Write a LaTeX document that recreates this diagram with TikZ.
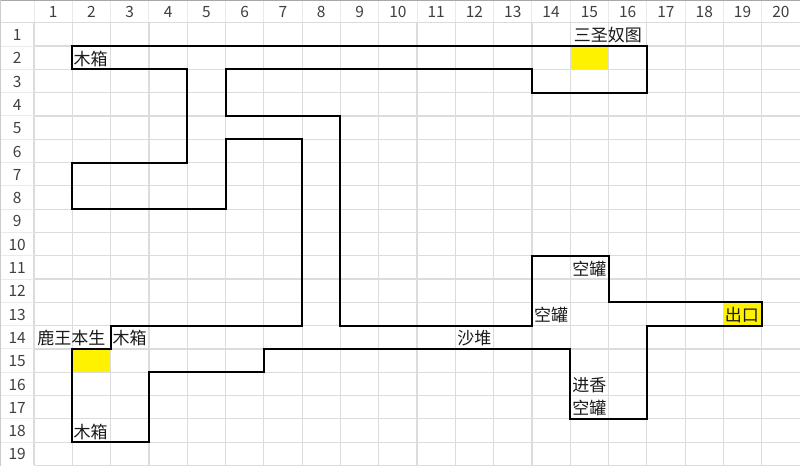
\documentclass[tikz,border=0pt]{standalone}
\usepackage{fontspec}
\setmainfont{Noto Sans CJK SC}
\definecolor{gridline}{HTML}{DCDCDC}
\definecolor{headline}{HTML}{EAEAEA}
\definecolor{edgeline}{HTML}{A8A8A8}
\definecolor{numtext}{HTML}{404040}
\definecolor{marktext}{HTML}{1A1A1A}
\begin{document}
\begin{tikzpicture}[x=38.3pt,y=-23.3pt,
  cell label/.style={anchor=west,inner sep=0pt,text=marktext,font=\fontsize{17}{17}\selectfont},
  num label/.style={anchor=center,inner sep=0pt,text=numtext,font=\fontsize{15.5}{15.5}\selectfont},
  mark cell/.style={fill=yellow,draw=none},
  wall/.style={draw=black,line width=2pt,line join=miter}]
  \useasboundingbox (4.3pt,-0.6pt) rectangle (804.3pt,-466.6pt);
  \fill[white] (4.3pt,-0.6pt) rectangle (804.3pt,-466.6pt);

  % yellow cells
  \path[mark cell] (15,2) rectangle (16,3);
  \path[mark cell] (2,15) rectangle (3,16);
  \path[mark cell] (19,13) rectangle (20,14);

  % sheet grid
  \foreach \c in {1,...,20}
    \draw[gridline,line width=1.2pt] (\c,1) -- (\c,20);
  \foreach \r in {2,...,20}
    \draw[gridline,line width=1.2pt] (1,\r) -- (21,\r);
  \foreach \c in {2,...,20}
    \draw[headline,line width=1pt] (\c,0) -- (\c,1);
  \foreach \r in {2,...,19}
    \draw[headline,line width=1pt] (4.3pt,-0.6pt |- 0,\r) -- (1,\r);
  \draw[headline,line width=1pt] (1,0) -- (1,1);
  \draw[gridline,line width=1.2pt] (4.3pt,-0.6pt |- 0,1) -- (21,1);
  \draw[edgeline,line width=1pt] (4.3pt,-1.1pt) -- (804.3pt,-1.1pt);
  \draw[edgeline!60,line width=1pt] (4.8pt,-0.6pt) -- (4.8pt,-466.6pt);

  % headers
  \foreach \c in {1,...,20}
    \node[num label] (col\c) at (\c+0.5,0.53) {\c};
  \foreach \r in {1,...,19}
    \node[num label] (row\r) at (0.56,\r+0.53) {\r};

  % walls
  \draw[wall] (2,2) -- (17,2) -- (17,4) -- (14,4) -- (14,3) -- (6,3) -- (6,5) -- (9,5)
    -- (9,14) -- (14,14) -- (14,11) -- (16,11) -- (16,13) -- (20,13) -- (20,14) -- (17,14)
    -- (17,18) -- (15,18) -- (15,15) -- (7,15) -- (7,16) -- (4,16) -- (4,19) -- (2,19)
    -- (2,15) -- (3,15) -- (3,14) -- (8,14) -- (8,6) -- (6,6) -- (6,9) -- (2,9) -- (2,7)
    -- (5,7) -- (5,3) -- (2,3) -- cycle;

  % labels
  \node[cell label] (box1) at (2.03,2.55) {木箱};
  \node[cell label] (tu) at (15.09,1.55) {三圣奴图};
  \node[cell label] (jar1) at (15.05,11.55) {空罐};
  \node[cell label] (jar2) at (14.05,13.55) {空罐};
  \node[cell label] (exit) at (19.03,13.55) {出口};
  \node[cell label] (luwang) at (1.08,14.55) {鹿王本生};
  \node[cell label] (box2) at (3.05,14.55) {木箱};
  \node[cell label] (sand) at (12.05,14.55) {沙堆};
  \node[cell label] (jin) at (15.05,16.55) {进香};
  \node[cell label] (jar3) at (15.05,17.55) {空罐};
  \node[cell label] (box3) at (2.03,18.55) {木箱};
\end{tikzpicture}
\end{document}
